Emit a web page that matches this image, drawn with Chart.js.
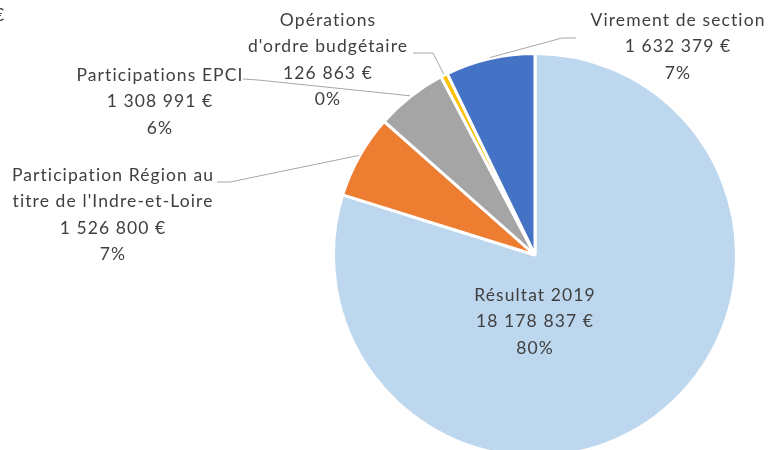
<!DOCTYPE html>
<html>
<head>
<meta charset="utf-8">
<script src="https://cdn.jsdelivr.net/npm/chart.js@4/dist/chart.umd.min.js"></script>
<style>
  html, body { margin: 0; padding: 0; background: #fff; overflow: hidden; }
  #wrap { position: relative; width: 774px; height: 460px; }
</style>
</head>
<body>
<div id="wrap"><canvas id="chart"></canvas></div>
<script>
const categories = [
  'Résultat 2019',
  "Participation Région au titre de l'Indre-et-Loire",
  'Participations EPCI',
  "Opérations d'ordre budgétaire",
  'Virement de section'
];
const amounts = [18178837, 1526800, 1308991, 126863, 1632379];
const amountLabels = ['18 178 837 €', '1 526 800 €', '1 308 991 €', '126 863 €', '1 632 379 €'];
const percentLabels = ['80%', '7%', '6%', '0%', '7%'];
const nameLines = [
  ['Résultat 2019'],
  ['Participation Région au', "titre de l'Indre-et-Loire"],
  ['Participations EPCI'],
  ['Opérations', "d'ordre budgétaire"],
  ['Virement de section']
];
const colors = ['#BDD7EE', '#ED7D31', '#A5A5A5', '#FFC000', '#4472C4'];

// where each label block sits (centre x, first line y) and the elbow of its leader line
const labelSpots = [
  {x: 535, y: 295, inside: true},
  {x: 113, y: 175, elbow: [230, 182], end: [217, 182]},
  {x: 160, y: 75, elbow: [258, 80], end: [243, 79]},
  {x: 328, y: 20, elbow: [433, 53], end: [413, 53]},
  {x: 678, y: 20, elbow: [562, 38], end: [576, 38]}
];

const FONT = '17.5px Lato, "Open Sans", sans-serif';
const LINE_H = 26.5;

const labelPlugin = {
  id: 'pieLabels',
  afterDatasetsDraw(chart) {
    const ctx = chart.ctx;
    const meta = chart.getDatasetMeta(0);
    ctx.save();
    meta.data.forEach((arc, i) => {
      const spot = labelSpots[i];
      if (!spot.inside) {
        const mid = (arc.startAngle + arc.endAngle) / 2;
        const r = arc.outerRadius + 1;
        const sx = arc.x + Math.cos(mid) * r;
        const sy = arc.y + Math.sin(mid) * r;
        ctx.strokeStyle = '#A6A6A6';
        ctx.lineWidth = 1;
        ctx.beginPath();
        ctx.moveTo(sx, sy);
        ctx.lineTo(spot.elbow[0], spot.elbow[1]);
        ctx.lineTo(spot.end[0], spot.end[1]);
        ctx.stroke();
      }
      const lines = nameLines[i].concat([amountLabels[i], percentLabels[i]]);
      ctx.fillStyle = '#404040';
      ctx.font = FONT;
      ctx.letterSpacing = '1.1px';
      ctx.textAlign = 'center';
      ctx.textBaseline = 'middle';
      lines.forEach((t, j) => ctx.fillText(t, spot.x, spot.y + j * LINE_H));
    });
    // clipped fragment of a title at the far top-left
    ctx.textAlign = 'left';
    ctx.fillText('€', -6, 15);
    ctx.restore();
  }
};

new Chart(document.getElementById('chart'), {
  type: 'pie',
  data: {
    labels: categories,
    datasets: [{
      data: amounts,
      backgroundColor: colors,
      borderColor: '#ffffff',
      borderWidth: 3
    }]
  },
  options: {
    responsive: true,
    maintainAspectRatio: false,
    animation: false,
    layout: {padding: {top: 52, bottom: 2, left: 332, right: 36}},
    plugins: {
      legend: {display: false},
      tooltip: {enabled: false}
    }
  },
  plugins: [labelPlugin]
});
</script>
</body>
</html>
